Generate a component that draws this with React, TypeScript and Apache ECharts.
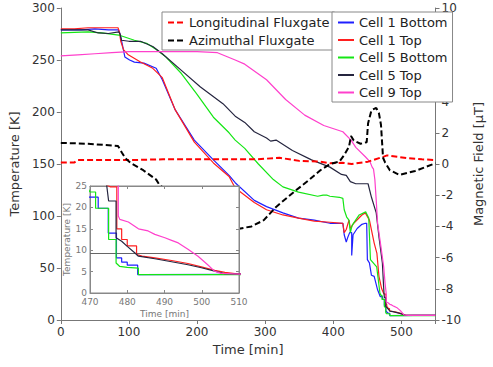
import React, { useEffect, useRef } from "react";
import * as echarts from "echarts";

// ---------- data (time [min], value) ----------
const cell1Bottom: number[][] = [
  [0, 279], [30, 279], [50, 280], [70, 279], [84, 279], [86, 277], [89, 269], [94, 253], [101, 250], [108, 248],
  [122, 247], [140, 242], [149, 231], [168, 202], [196, 173], [224, 154], [247, 139], [256, 132], [284, 115],
  [302, 109], [326, 103], [349, 98], [372, 96], [395, 93], [414, 93], [416, 82], [419, 75], [421, 79], [424, 84],
  [427, 84], [427, 62], [428, 62], [429, 82], [435, 88], [442, 92], [447, 93], [449, 93], [450, 58], [453, 55],
  [456, 43], [460, 42], [465, 29], [469, 22.4], [472.2, 22.4], [472.2, 19.8], [474.9, 19.8], [474.9, 14],
  [477.1, 14], [477.1, 8.2], [478.5, 8.2], [478.5, 7.2], [480, 7.2], [480, 6.5], [482.8, 6.5], [482.8, 4.3],
  [520, 4.4], [550, 4.4],
];
const cell1Top: number[][] = [
  [0, 280], [20, 280], [40, 281], [60, 281], [84, 281], [86, 277], [88, 268], [92, 260], [99, 255], [117, 248],
  [135, 242], [149, 233], [168, 202], [196, 171], [224, 151], [247, 138], [256, 127], [284, 113], [302, 106],
  [326, 101], [349, 98], [372, 95], [395, 94], [414, 93], [416, 84], [419, 87], [423, 96], [425, 88], [430, 93],
  [442, 101], [447, 103], [453, 96], [460, 74], [464, 64], [467, 42], [471, 30], [474, 25.5], [475.5, 24.8],
  [477.2, 24.8], [477.2, 15], [478.5, 15], [478.5, 12.5], [480, 12.5], [480, 11], [482.5, 11], [482.5, 9],
  [484, 8.6], [487.4, 8.2], [491.9, 7.6], [496.3, 6.9], [499.9, 6.1], [503.5, 5.3], [506.2, 4.8], [510, 4.4],
  [550, 4.4],
];
const cell5Bottom: number[][] = [
  [0, 276], [20, 276.5], [40, 277], [60, 276], [85, 274], [108, 269], [126, 266], [140, 260], [154, 253],
  [177, 237], [200, 217], [224, 195], [247, 180], [256, 173], [270, 165], [290, 150], [312, 135], [326, 128],
  [349, 123], [377, 119], [385, 120], [391, 120], [395, 119], [409, 118], [414, 117], [416, 106], [419.6, 99],
  [423, 96], [425, 84], [427.6, 91], [438, 101], [447.5, 104], [452, 98], [454.5, 58], [463.7, 51], [468.4, 26],
  [470, 23.6], [471.5, 23.6], [471.5, 19.8], [475, 19.8], [475, 12.5], [477, 12.5], [477, 7], [478, 6.2],
  [480, 6], [483, 5.8], [483, 4.3], [550, 4.3],
];
const cell5Top: number[][] = [
  [0, 279], [20, 279], [40, 279], [55, 276], [70, 275.5], [85, 277], [87, 275], [89, 269], [100, 268], [117, 268],
  [135, 263], [149, 256], [177, 240], [205, 224], [238, 208], [256, 196], [270, 190], [284, 181], [302, 175],
  [308, 172], [316, 173], [340, 163], [368, 154], [395, 147], [412, 140], [419, 139], [425, 133], [433, 131],
  [451, 131], [456, 118], [463, 103], [467, 80], [472, 55], [474, 30], [474.5, 25], [475, 21.5], [477, 21.5],
  [477, 12.9], [478.5, 12.1], [480, 10.9], [482, 9.4], [483, 8.6], [487.4, 8], [491.9, 7.3], [496.3, 6.6],
  [499.9, 5.9], [503.5, 5.1], [506.2, 4.5], [510, 4.4], [550, 4.4],
];
const cell9Top: number[][] = [
  [0, 254], [25, 255], [50, 256], [75, 257], [100, 258], [150, 258], [200, 258], [230, 257], [256, 250],
  [270, 246], [302, 231], [330, 212], [358, 197], [386, 187], [414, 181], [426, 173], [433, 166], [447, 157],
  [454, 152], [457, 147], [459, 145], [461, 135], [463, 115], [465, 93], [470, 70], [474, 51], [476, 35],
  [477.6, 26], [477.6, 18], [478, 17.2], [480.3, 16.6], [482, 15.6], [483, 15], [485.6, 14.5], [487.4, 13.7],
  [490.1, 12.9], [491.9, 12.3], [493.7, 11.7], [496.3, 10.2], [499, 8.6], [501.6, 6.6], [503.4, 5.1],
  [505.2, 4.6], [510, 4.4], [550, 4.4],
];
const longitudinal: number[][] = [
  [0, 0.1], [20, 0.1], [25, 0.25], [50, 0.25], [100, 0.25], [150, 0.3], [200, 0.3], [250, 0.3], [288, 0.3],
  [321, 0.4], [350, 0.2], [381, 0.15], [395, 0.05], [413, 0.08], [427, 0.0], [451, 0.15], [474, 0.47],
  [479, 0.55], [507, 0.38], [530, 0.3], [550, 0.25],
];
const azimuthal: number[][] = [
  [0, 1.35], [40, 1.3], [84, 1.15], [90, 0.7], [95, 0.35], [103, 0.05], [121, -0.4], [140, -1.0], [145, -1.35],
  [160, -1.8], [190, -2.9], [220, -3.7], [240, -4.1], [256, -4.2], [280, -4.0], [298, -3.6], [316, -2.75],
  [342, -1.8], [365, -1.0], [381, -0.4], [395, 0.0], [409, 0.15], [416, 0.58], [423, 1.1], [426, 1.8],
  [430, 1.5], [440, 1.3], [449, 1.4], [451, 2.6], [456, 3.45], [463, 3.6], [467, 3.25], [470, 2.5], [473, 0.4],
  [476, 0.1], [483, -0.4], [497, -0.7], [520, -0.45], [550, 0.05],
];
const insetRefLevel = 9.2;

const cellNames = ["Cell 1 Bottom", "Cell 1 Top", "Cell 5 Bottom", "Cell 5 Top", "Cell 9 Top"];
const cellData = [cell1Bottom, cell1Top, cell5Bottom, cell5Top, cell9Top];
const cellColors = ["#1f1fff", "#ff1f1f", "#14e614", "#25253f", "#ff40cc"];
const fluxNames = ["Longitudinal Fluxgate", "Azimuthal Fluxgate"];
const fluxData = [longitudinal, azimuthal];
const fluxColors = ["#ff0000", "#000000"];

const FONT = "DejaVu Sans";

export default function App() {
  const ref = useRef<HTMLDivElement>(null);
  useEffect(() => {
    if (!ref.current) return;
    const chart = echarts.init(ref.current, undefined, { renderer: "svg" });
    const axisLineMain = { show: true, onZero: false, lineStyle: { color: "#777", width: 1 } };
    const tickMain = { show: true, inside: false, length: 4, lineStyle: { color: "#777" } };
    const labelMain = { fontSize: 12, color: "#333", fontFamily: FONT };
    const insetLine = { show: true, onZero: false, lineStyle: { color: "#888", width: 1 } };
    const insetTick = { show: true, inside: true, length: 3, lineStyle: { color: "#888" } };
    const insetLabel = { fontSize: 9, color: "#777", fontFamily: FONT, margin: 3 };

    const series: any[] = [];
    cellNames.forEach((n, i) => {
      series.push({
        name: n, type: "line", xAxisIndex: 0, yAxisIndex: 0, data: cellData[i], symbol: "none",
        lineStyle: { color: cellColors[i], width: 1.2 }, itemStyle: { color: cellColors[i] }, z: 2,
      });
    });
    fluxNames.forEach((n, i) => {
      series.push({
        name: n, type: "line", xAxisIndex: 0, yAxisIndex: 1, data: fluxData[i], symbol: "none",
        lineStyle: { color: fluxColors[i], width: 2, type: [6, 3] }, itemStyle: { color: fluxColors[i] }, z: 3,
      });
    });
    cellNames.forEach((n, i) => {
      const s: any = {
        name: n, type: "line", xAxisIndex: 1, yAxisIndex: 2, data: cellData[i], symbol: "none",
        lineStyle: { color: cellColors[i], width: 1.2 }, itemStyle: { color: cellColors[i] }, z: 8, clip: true,
      };
      if (i === 0) {
        s.markLine = {
          silent: true, symbol: "none", label: { show: false },
          lineStyle: { color: "#666", type: "solid", width: 1 },
          data: [{ yAxis: insetRefLevel }], z: 7,
        };
      }
      series.push(s);
    });

    const legendCommon = {
      orient: "vertical", itemWidth: 16, itemHeight: 10,
      padding: [4, 5, 3, 5], borderColor: "#888", borderWidth: 1, backgroundColor: "#fff",
      textStyle: { fontSize: 13, color: "#222", fontFamily: FONT }, selectedMode: false, z: 10,
      itemStyle: { color: "rgba(0,0,0,0)", borderWidth: 0, opacity: 0 },
    };

    chart.setOption({
      animation: false,
      textStyle: { fontFamily: FONT },
      grid: [
        { left: 56, top: 8, right: 42, bottom: 47 },
        { left: 90, top: 186, right: 254, bottom: 74, show: true, backgroundColor: "#ffffff", borderColor: "#888", borderWidth: 1, z: 5 },
      ],
      legend: [
        { ...legendCommon, data: fluxNames, left: 162, top: 12, itemGap: 5 },
        { ...legendCommon, data: cellNames, left: 332, top: 12, itemGap: 4.5 },
      ],
      xAxis: [
        {
          type: "value", gridIndex: 0, min: 0, max: 550, interval: 100,
          axisLine: axisLineMain, axisTick: tickMain, splitLine: { show: false },
          axisLabel: { ...labelMain, margin: 6, formatter: (v: number) => (v % 100 === 0 ? String(v) : "") },
          name: "Time [min]", nameLocation: "middle", nameGap: 23,
          nameTextStyle: { fontSize: 13, color: "#333", fontFamily: FONT },
        },
        {
          type: "value", gridIndex: 1, min: 470, max: 510, interval: 10, position: "bottom",
          axisLine: insetLine, axisTick: insetTick, splitLine: { show: false }, axisLabel: { ...insetLabel, margin: 4 },
          name: "Time [min]", nameLocation: "middle", nameGap: 16,
          nameTextStyle: { fontSize: 9, color: "#777", fontFamily: FONT }, z: 6,
        },
        {
          type: "value", gridIndex: 1, min: 470, max: 510, interval: 10, position: "top",
          axisLine: insetLine, axisTick: insetTick, splitLine: { show: false }, axisLabel: { show: false }, z: 6,
        },
      ],
      yAxis: [
        {
          type: "value", gridIndex: 0, min: 0, max: 300, interval: 50,
          axisLine: axisLineMain, axisTick: tickMain, splitLine: { show: false },
          axisLabel: { ...labelMain, margin: 6 },
          name: "Temperature [K]", nameLocation: "middle", nameGap: 34, nameRotate: 90,
          nameTextStyle: { fontSize: 13, color: "#333", fontFamily: FONT },
        },
        {
          type: "value", gridIndex: 0, min: -10, max: 10, interval: 2, position: "right",
          axisLine: axisLineMain, axisTick: tickMain, splitLine: { show: false },
          axisLabel: { ...labelMain, margin: 6 },
          name: "Magnetic Field [μT]", nameLocation: "middle", nameGap: 32, nameRotate: 90,
          nameTextStyle: { fontSize: 13, color: "#333", fontFamily: FONT },
        },
        {
          type: "value", gridIndex: 1, min: 0, max: 25, interval: 5, position: "left",
          axisLine: insetLine, axisTick: insetTick, splitLine: { show: false }, axisLabel: insetLabel,
          name: "Temperature [K]", nameLocation: "middle", nameGap: 16, nameRotate: 90,
          nameTextStyle: { fontSize: 9, color: "#777", fontFamily: FONT }, z: 6,
        },
        {
          type: "value", gridIndex: 1, min: 0, max: 25, interval: 5, position: "right",
          axisLine: insetLine, axisTick: insetTick, splitLine: { show: false }, axisLabel: { show: false }, z: 6,
        },
      ],
      series,
    });
    return () => chart.dispose();
  }, []);
  return (
    <div
      ref={ref}
      style={{ position: "fixed", left: 0, top: 0, width: 493, height: 367, background: "#fff" }}
    />
  );
}
